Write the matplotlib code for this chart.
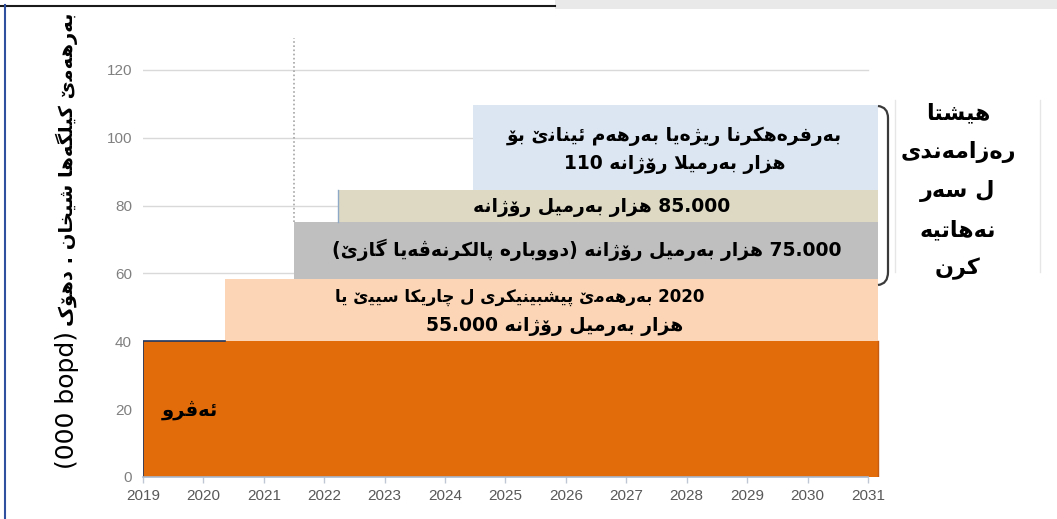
"""Shaikan field production outlook: stepped bands with Kurdish labels
"""
import re

import matplotlib
matplotlib.use('Agg')
import matplotlib.pyplot as plt
import matplotlib.patches as mpatches
from matplotlib.font_manager import FontProperties, findfont
from matplotlib.ft2font import FT2Font
from matplotlib.lines import Line2D
from matplotlib.path import Path

# Data
years = list(range(2019, 2032))
y_ticks = [0, 20, 40, 60, 80, 100, 120]
band_start = [2019.0, 2020.36, 2021.5, 2022.23, 2024.46]
band_low = [0, 40.1, 58.3, 75.1, 84.6]
band_high = [40.1, 58.3, 75.1, 84.6, 109.8]
band_end = 2031.17
band_colors = ['#E36C0A', '#FBD5B5', '#BFBFBF', '#DDD9C3', '#DCE6F2']

# labels: (text, right-to-left paragraph?)
today_label = 'ئەڤرو'
peach_lines = [('بەرهەمێ پێشبینیکری ل چارێکا سێیێ یا 2020', False),
               ('55.000 هزار بەرمیل رۆژانە', False)]
gray_line = ('75.000 هزار بەرمیل رۆژانە (دووبارە پالکرنەڤەیا گازێ)', True)
beige_line = ('85.000 هزار بەرمیل رۆژانە', True)
blue_lines = [('بەرفرەهکرنا رێژەیا بەرهەم ئینانێ بۆ', True),
              ('110 هزار بەرمیلا رۆژانە', False)]
side_lines = ['هێشتا', 'رەزامەندی', 'ل سەر', 'نەهاتیە', 'کرن']
ylabel_ar = 'بەرهەمێ کێلگەها شێخان . دهۆک'
ylabel_unit = '(000 bopd)'


# matplotlib 3.10 has no Arabic shaping, so pick presentation forms by hand
def charmap(weight):
    path = findfont(FontProperties(family='DejaVu Sans', weight=weight))
    return set(FT2Font(path).get_charmap())


AR_WEIGHT = 'bold'
CMAP = charmap('bold')
if 0xFE91 not in CMAP:
    AR_WEIGHT = 'normal'
    CMAP = charmap('normal')


def D(a):
    return (a, a + 1, a + 2, a + 3)


def R(a):
    return (a, a + 1, None, None)


CANDIDATES = {
    'ا': [R(0xFE8D)], 'ب': [D(0xFE8F)], 'پ': [D(0xFB56), D(0xFE8F)],
    'ت': [D(0xFE95)], 'ج': [D(0xFE9D)], 'چ': [D(0xFB7A), D(0xFE9D)],
    'ح': [D(0xFEA1)], 'خ': [D(0xFEA5)], 'د': [R(0xFEA9)],
    'ر': [R(0xFEAD)], 'ز': [R(0xFEAF)], 'ژ': [R(0xFB8A), R(0xFEAF)],
    'س': [D(0xFEB1)], 'ش': [D(0xFEB5)], 'ع': [D(0xFEC9)],
    'ف': [D(0xFED1)], 'ڤ': [D(0xFB6A), D(0xFED1)], 'ق': [D(0xFED5)],
    'ک': [D(0xFB8E), D(0xFED9)], 'گ': [D(0xFB92), D(0xFED9)],
    'ل': [D(0xFEDD)], 'م': [D(0xFEE1)], 'ن': [D(0xFEE5)],
    'ه': [D(0xFEE9)], 'ە': [R(0xFEE9)], 'و': [R(0xFEED)],
    'ۆ': [R(0xFBD9), R(0xFEED)], 'ئ': [D(0xFE89)],
    'ی': [D(0xFBFC), (0xFEEF, 0xFEF0, 0xFEF3, 0xFEF4)],
    'ێ': [(0x06CE, 0x06CE, 0xFEF3, 0xFEF4), (0xFEEF, 0xFEF0, 0xFEF3, 0xFEF4)],
}
FORMS = {}
for letter, options in CANDIDATES.items():
    for opt in options:
        if all(c is None or c in CMAP for c in opt):
            FORMS[letter] = opt
            break
    else:
        FORMS[letter] = (ord(letter), ord(letter), None, None)

LAM_ALEF = 0xFEFB in CMAP and 0xFEFC in CMAP
MIRROR = {'(': ')', ')': '('}


def joins_next(ch):
    return ch in FORMS and FORMS[ch][2] is not None


def shape(s):
    out = []
    i = 0
    while i < len(s):
        c = s[i]
        if c not in FORMS:
            out.append(c)
            i += 1
            continue
        prev_joins = i > 0 and joins_next(s[i - 1])
        if LAM_ALEF and c == 'ل' and i + 1 < len(s) and s[i + 1] == 'ا':
            out.append(chr(0xFEFC if prev_joins else 0xFEFB))
            i += 2
            continue
        next_joins = joins_next(c) and i + 1 < len(s) and s[i + 1] in FORMS
        iso, fin, ini, med = FORMS[c]
        if prev_joins and next_joins:
            g = med
        elif prev_joins:
            g = fin
        elif next_joins:
            g = ini
        else:
            g = iso
        out.append(chr(g))
        i += 1
    return out


def rtl_run(s):
    return ''.join(MIRROR.get(c, c) for c in reversed(shape(s)))


LTR_RUN = re.compile(r'[0-9A-Za-z][0-9A-Za-z.,]*(?:\s+[0-9A-Za-z][0-9A-Za-z.,]*)*')


def visual(text, rtl=True):
    runs = []
    pos = 0
    for m in LTR_RUN.finditer(text):
        if m.start() > pos:
            runs.append((text[pos:m.start()], False))
        runs.append((m.group(), True))
        pos = m.end()
    if pos < len(text):
        runs.append((text[pos:], False))
    if rtl:
        return ''.join(r if ltr else rtl_run(r) for r, ltr in reversed(runs))
    parts = []
    for r, ltr in runs:
        if ltr:
            parts.append(r)
        else:
            core = r.strip()
            lead = r[:len(r) - len(r.lstrip())]
            trail = r[len(r.rstrip()):]
            parts.append(lead + rtl_run(core) + trail)
    return ''.join(parts)


W, H = 1057, 519
fig = plt.figure(figsize=(W / 100, H / 100), dpi=100)
ax = fig.add_axes([143 / W, 1 - 477 / H, 737 / W, 441 / H])
ax.set_xlim(2019, 2031.2)
ax.set_ylim(0, 130)

# gridlines behind bands
for yv in y_ticks[1:]:
    ax.plot([2019, 2031], [yv, yv], color='#D9D9D9', lw=1, zorder=1)

for x0, lo, hi, col in zip(band_start, band_low, band_high, band_colors):
    ax.fill_between([x0, band_end], lo, hi, color=col, lw=0, zorder=2)

# outline on the current-production block
ax.plot([band_start[0], band_start[0], band_start[1]], [0, band_high[0], band_high[0]],
        color='#1F3864', lw=1.2, zorder=3)
ax.plot([band_end, band_end], [0, band_high[0]], color='#C55A11', lw=1, zorder=3)
ax.plot([band_start[3], band_start[3]], [band_low[3], band_high[3]], color='#8EA9C8', lw=1, zorder=3)

# dotted marker line
ax.plot([band_start[2], band_start[2]], [band_high[2], 129.5], color='#A6A6A6', lw=1.2,
        ls=(0, (1, 1.5)), zorder=3)

# x axis line
ax.plot([2019, 2031], [0, 0], color='#A9B8CF', lw=1.2, zorder=4, clip_on=False)

for side in ax.spines.values():
    side.set_visible(False)
ax.set_xticks(years)
ax.set_xticklabels([str(y) for y in years], fontfamily='Liberation Sans', fontsize=11,
                   color='#595959')
ax.tick_params(axis='x', length=4, width=1, color='#BFC7D5', pad=5)
ax.set_yticks(y_ticks)
ax.set_yticklabels([str(v) for v in y_ticks], fontfamily='Liberation Sans', fontsize=11,
                   color='#808080')
ax.tick_params(axis='y', length=0, pad=8)

txt = dict(family='DejaVu Sans', weight=AR_WEIGHT, color='black', ha='center', va='center',
           zorder=5)

ax.text(2019.78, 19.8, visual(today_label), fontsize=14, **txt)
ax.text(2025.24, 53.1, visual(*peach_lines[0]), fontsize=12, **txt)
ax.text(2025.82, 44.5, visual(*peach_lines[1]), fontsize=13.5, **txt)
ax.text(2026.35, 66.9, visual(*gray_line), fontsize=13.5, **txt)
ax.text(2026.6, 79.3, visual(*beige_line), fontsize=13.5, **txt)
ax.text(2027.8, 100.5, visual(*blue_lines[0]), fontsize=13.5, **txt)
ax.text(2027.8, 92.0, visual(*blue_lines[1]), fontsize=13.5, **txt)

# y label: Kurdish part and unit part
fig.text(67 / W, 1 - 169 / H, visual(ylabel_ar), rotation=90, fontsize=14,
         family='DejaVu Sans', weight=AR_WEIGHT, ha='center', va='center')
fig.text(67 / W, 1 - 400 / H, ylabel_unit, rotation=90, fontsize=18,
         family='DejaVu Sans', ha='center', va='center')

# side note with bracket
for i, line in enumerate(side_lines):
    fig.text(958 / W, 1 - (113 + 39 * i) / H, visual(line), fontsize=16,
             family='DejaVu Sans', weight=AR_WEIGHT, ha='center', va='center')


def fpt(x, y):
    return (x / W, 1 - y / H)


brace = Path([fpt(878, 106), fpt(888, 107), fpt(888, 118), fpt(888, 272),
              fpt(888, 284), fpt(878, 285)],
             [Path.MOVETO, Path.CURVE3, Path.CURVE3, Path.LINETO, Path.CURVE3, Path.CURVE3])
fig.patches.append(mpatches.PathPatch(brace, fc='none', ec='#3A3A3A', lw=1.6,
                                      transform=fig.transFigure))
for xv in (895, 1040):
    fig.lines.append(Line2D([xv / W, xv / W], [1 - 100 / H, 1 - 272 / H], color='#E6E6E6',
                            lw=1, transform=fig.transFigure))

# frame of the original slide crop
fig.patches.append(mpatches.Rectangle(fpt(555, 9), 502 / W, 9 / H, fc='#E9E9E9', ec='none',
                                      transform=fig.transFigure))
fig.lines.append(Line2D([0, 555 / W], [1 - 5.5 / H] * 2, color='#1A1A1A', lw=1.5,
                        transform=fig.transFigure))
fig.lines.append(Line2D([4.5 / W] * 2, [0, 1 - 5 / H], color='#2F4F9F', lw=1.5,
                        transform=fig.transFigure))

fig.savefig('out.png', dpi=100)
